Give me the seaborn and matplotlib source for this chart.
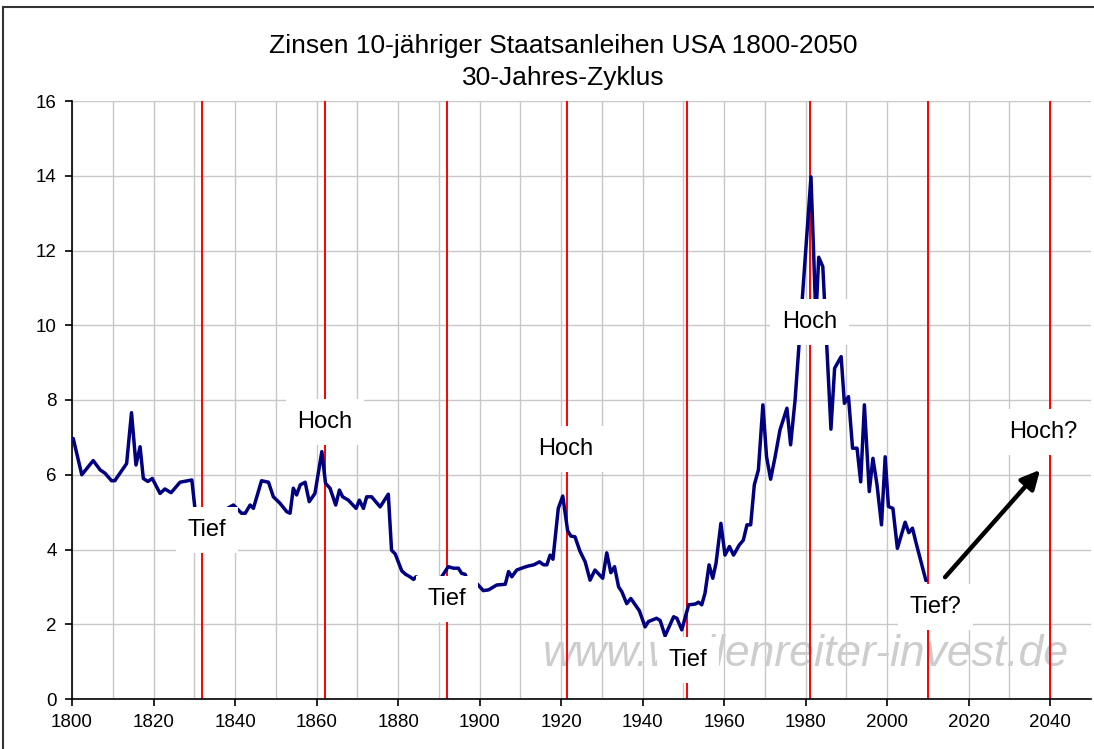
import numpy as np
import pandas as pd
import matplotlib
matplotlib.use("Agg")
import matplotlib.pyplot as plt
from matplotlib.patches import Rectangle
import seaborn as sns

# ---------------- data ----------------
years = [1800.3, 1802.4, 1805.2, 1806.9, 1808.1, 1809.7, 1810.5, 1813.4, 1814.6, 1815.7,
         1816.7, 1817.5, 1818.6, 1819.7, 1821.6, 1822.8, 1824.3, 1826.5, 1829.4, 1830.2,
         1831.5, 1833.5, 1835.5, 1837.5, 1839.6, 1841.6, 1842.5, 1843.7, 1844.5, 1846.5,
         1848.2, 1849.4, 1851.0, 1852.7, 1853.5, 1854.3, 1855.1, 1856.0, 1857.2, 1858.2,
         1859.6, 1861.3, 1862.2, 1863.3, 1864.7, 1865.6, 1866.4, 1867.8, 1869.7, 1870.5,
         1871.5, 1872.3, 1873.5, 1875.6, 1877.6, 1878.4, 1879.3, 1880.9, 1881.8, 1882.9,
         1883.8, 1884.4, 1885.8, 1886.6, 1887.3, 1888.3, 1889.5, 1890.7, 1892.3, 1893.6,
         1894.8, 1895.6, 1896.4, 1897.2, 1898.9, 1900.9, 1902.2, 1904.2, 1906.3, 1907.1,
         1907.9, 1909.1, 1910.8, 1912.0, 1913.3, 1914.7, 1915.7, 1916.5, 1917.3, 1918.0,
         1919.3, 1920.4, 1921.6, 1922.4, 1923.4, 1924.6, 1925.9, 1927.1, 1928.3, 1930.2,
         1931.2, 1932.2, 1933.1, 1934.1, 1934.9, 1936.1, 1937.1, 1939.2, 1940.6, 1941.4,
         1943.4, 1944.3, 1945.5, 1947.6, 1948.4, 1949.6, 1951.3, 1952.9, 1953.7, 1954.5,
         1955.3, 1956.3, 1957.2, 1958.0, 1959.2, 1960.2, 1961.3, 1962.3, 1963.7, 1964.7,
         1965.6, 1966.5, 1967.4, 1968.4, 1969.5, 1970.4, 1971.4, 1972.5, 1973.7, 1975.4,
         1976.3, 1977.4, 1981.3, 1982.5, 1983.2, 1984.2, 1986.2, 1987.1, 1988.7, 1989.5,
         1990.5, 1991.5, 1992.6, 1993.5, 1994.4, 1995.6, 1996.5, 1997.5, 1998.6, 1999.5,
         2000.3, 2001.4, 2002.5, 2004.4, 2005.3, 2006.2, 2007.1, 2009.5]
rates = [6.97, 6.00, 6.38, 6.13, 6.04, 5.84, 5.84, 6.30, 7.66, 6.26,
         6.75, 5.90, 5.82, 5.90, 5.50, 5.62, 5.52, 5.80, 5.86, 5.06,
         4.60, 4.50, 4.70, 5.06, 5.19, 4.97, 4.97, 5.19, 5.10, 5.84,
         5.80, 5.41, 5.24, 5.01, 4.97, 5.64, 5.46, 5.73, 5.80, 5.28,
         5.50, 6.62, 5.77, 5.64, 5.19, 5.59, 5.41, 5.32, 5.10, 5.32,
         5.10, 5.41, 5.41, 5.14, 5.48, 3.98, 3.88, 3.43, 3.34, 3.27,
         3.20, 3.27, 3.18, 3.16, 3.23, 3.14, 3.14, 3.27, 3.54, 3.50,
         3.50, 3.36, 3.34, 3.16, 3.14, 2.90, 2.92, 3.05, 3.07, 3.41,
         3.27, 3.45, 3.52, 3.56, 3.59, 3.67, 3.59, 3.59, 3.85, 3.74,
         5.10, 5.43, 4.50, 4.36, 4.34, 3.96, 3.67, 3.18, 3.45, 3.23,
         3.91, 3.38, 3.54, 3.00, 2.87, 2.55, 2.69, 2.36, 1.93, 2.07,
         2.16, 2.10, 1.69, 2.20, 2.16, 1.85, 2.52, 2.54, 2.59, 2.52,
         2.83, 3.59, 3.23, 3.63, 4.70, 3.85, 4.08, 3.85, 4.12, 4.25,
         4.66, 4.66, 5.73, 6.13, 7.87, 6.48, 5.88, 6.48, 7.20, 7.78,
         6.80, 8.00, 13.97, 10.20, 11.82, 11.57, 7.22, 8.85, 9.16, 7.91,
         8.09, 6.71, 6.71, 5.81, 7.87, 5.55, 6.44, 5.73, 4.66, 6.48,
         5.15, 5.10, 4.03, 4.73, 4.45, 4.57, 4.17, 3.17]

cycle_years = [1832, 1862, 1892, 1921.5, 1951, 1981, 2010, 2040]

label_texts = ["Tief", "Hoch", "Tief", "Hoch", "Tief", "Hoch", "Tief?", "Hoch?"]
label_x = [1833.1, 1862.1, 1892.0, 1921.0, 1951.2, 1980.9, 2011.8, 2038.3]
label_y = [4.52, 7.41, 2.68, 6.69, 1.04, 10.09, 2.46, 7.14]

arrow_start = (2014.2, 3.26)
arrow_end = (2037.5, 6.13)

title_lines = ["Zinsen 10-jähriger Staatsanleihen USA 1800-2050", "30-Jahres-Zyklus"]
watermark = "www.wellenreiter-invest.de"

# ---------------- style ----------------
sns.set_theme(style="white")
plt.rcParams['font.family'] = ['Liberation Sans', 'DejaVu Sans']
plt.rcParams['text.color'] = 'black'
plt.rcParams['xtick.color'] = 'black'
plt.rcParams['ytick.color'] = 'black'

W, H = 1094, 749
fig = plt.figure(figsize=(W / 100, H / 100), dpi=100)
fig.patch.set_facecolor("white")
ax = fig.add_axes([72 / W, 50 / H, (1091 - 72) / W, (699 - 101) / H])
ax.set_facecolor("white")

df = pd.DataFrame({"Jahr": years, "Zins": rates})

ax.set_xlim(1800, 2050)
ax.set_ylim(0, 16)
ax.set_xticks(np.arange(1800, 2041, 20))
ax.set_xticks(np.arange(1810, 2050, 20), minor=True)
ax.set_yticks(np.arange(0, 17, 2))
ax.grid(True, which="both", color="#c8c8c8", linewidth=1.0, zorder=0)
ax.set_axisbelow(True)
ax.tick_params(axis="x", which="major", direction="out", length=5, width=1.2,
               color="black", labelcolor="black", labelsize=13.5, pad=6, bottom=True)
ax.tick_params(axis="x", which="minor", length=0)
ax.tick_params(axis="y", direction="out", length=5, width=1.2, color="black",
               labelcolor="black", labelsize=13.5, pad=6, left=True)
for s in ["top", "right"]:
    ax.spines[s].set_visible(False)
for s in ["left", "bottom"]:
    ax.spines[s].set_color("black")
    ax.spines[s].set_linewidth(1.2)

# watermark
ax.text(1980.1, 1.18, watermark, fontsize=32, color="#cdcdcd", ha="center",
        va="center", style="italic", zorder=1.5)

# cycle lines
for cy in cycle_years:
    ax.axvline(cy, color="#ff0000", linewidth=1.4, zorder=2)

sns.lineplot(data=df, x="Jahr", y="Zins", ax=ax, color="#000080", linewidth=2.5,
             estimator=None, sort=False, zorder=3)
ax.set_xlabel("")
ax.set_ylabel("")

for t, lx, ly in zip(label_texts, label_x, label_y):
    ax.text(lx, ly, t, fontsize=17, ha="center", va="center", color="black", zorder=5,
            bbox=dict(boxstyle="square,pad=0.5", facecolor="white", edgecolor="none"))

ax.annotate("", xy=arrow_end, xytext=arrow_start, zorder=6,
            arrowprops=dict(arrowstyle="-|>", color="black", lw=3.2, mutation_scale=28,
                            shrinkA=0, shrinkB=0))

fig.text(563 / W, 1 - 46 / H, title_lines[0], fontsize=19, ha="center", va="center",
         color="black")
fig.text(563 / W, 1 - 78 / H, title_lines[1], fontsize=19, ha="center", va="center",
         color="black")

# outer frame
fig.patches.append(Rectangle((3 / W, -0.05), 1.2, 1 - 7 / H + 0.05, transform=fig.transFigure,
                             fill=False, edgecolor="#333333", linewidth=1.5, clip_on=False))

fig.savefig("out.png", dpi=100, facecolor="white")
